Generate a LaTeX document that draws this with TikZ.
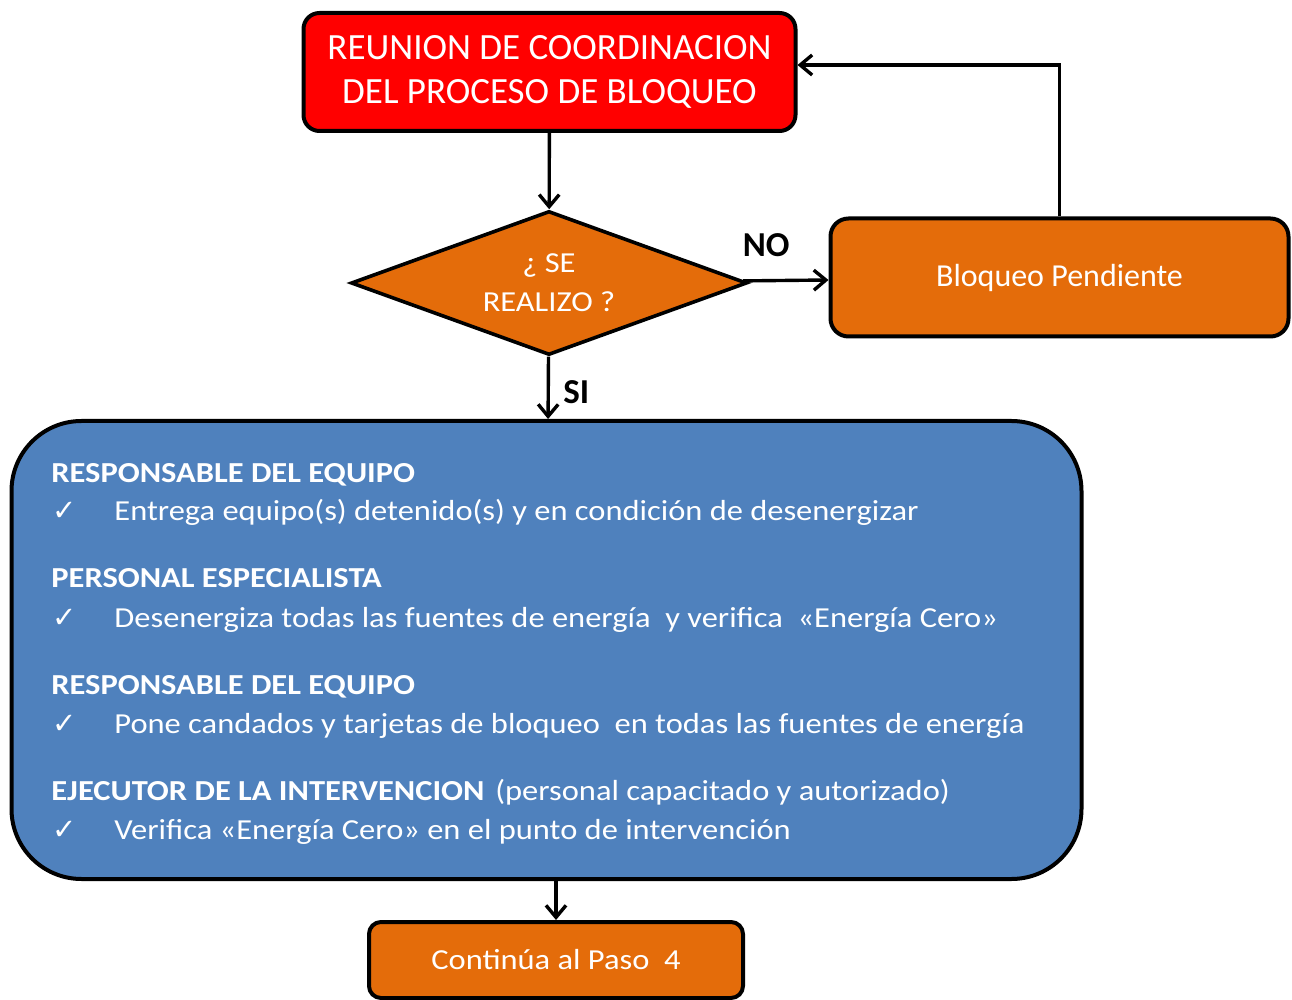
\documentclass[tikz,border=0pt]{standalone}
\usepackage{fontspec}
\setmainfont{Carlito}
\newfontfamily\ancha{Carlito}[FakeStretch=1.12]
\newfontfamily\symfont{DejaVu Sans}
\usepackage{tikz}
\usetikzlibrary{arrows.meta,positioning,shapes.geometric}
\usepackage{xcolor}
\definecolor{rojo}{HTML}{FF0000}
\definecolor{naranja}{HTML}{E46C0A}
\definecolor{azul}{HTML}{4F81BD}
\newcommand{\chk}{{\symfont\char"2713}}

\begin{document}
\begin{tikzpicture}[x=0.5pt, y=-0.5pt,
  caja/.style={draw=black, line width=2pt, rounded corners=8pt, text=white, align=center},
  flecha/.style={line width=1.7pt, -{Straight Barb[length=6pt,width=10pt]}},
  etiqueta/.style={font=\fontsize{17.5}{20}\selectfont\bfseries, inner sep=0pt},
  titulo/.style={anchor=base west, text=white, font=\ancha\fontsize{14.5}{16}\selectfont, inner sep=0pt},
  tarea/.style={anchor=base west, text=white, font=\ancha\fontsize{14.5}{16}\selectfont, inner sep=0pt}]
\useasboundingbox (0,0) rectangle (1292,1000);
% pixel grid of the original: x to the right, y downwards
\node[caja, fill=rojo, minimum width=246pt, minimum height=59pt, font=\fontsize{18.5}{22}\selectfont] (reunion) at (549.5,72) {REUNION DE COORDINACION\\DEL PROCESO DE BLOQUEO};
\node[diamond, draw=black, fill=naranja, line width=1.8pt, aspect=2.75, inner sep=0pt, minimum width=198pt, minimum height=72pt, text=white, align=center, font=\ancha\fontsize{14.5}{19.5}\selectfont] (decision) at (549,283) {¿ SE\\REALIZO ?};
\node[caja, fill=naranja, rounded corners=9pt, minimum width=229pt, minimum height=59pt, font=\fontsize{16}{18}\selectfont] (bloqueo) at (1059.5,277.5) {Bloqueo Pendiente};
\node[caja, fill=azul, rounded corners=35pt, minimum width=535pt, minimum height=229pt] (tareas) at (546.5,650) {};
\node[caja, fill=naranja, rounded corners=6pt, minimum width=187pt, minimum height=38pt, font=\ancha\fontsize{14.5}{16}\selectfont] (paso) at (556,960) {Continúa al Paso~~4};
% who does what
\foreach \y/\quien/\accion [count=\i] in {
  482/{RESPONSABLE DEL EQUIPO}/{Entrega equipo(s) detenido(s) y en condición de desenergizar},
  588/{PERSONAL ESPECIALISTA}/{Desenergiza todas las fuentes de energía~ y verifica~ «Energía Cero»},
  694/{RESPONSABLE DEL EQUIPO}/{Pone candados y tarjetas de bloqueo~ en todas las fuentes de energía},
  800/{EJECUTOR DE LA INTERVENCION}/{Verifica «Energía Cero» en el punto de intervención}}
{
  \node[titulo] (quien\i) at (51,\y) {\textbf{\quien}};
  \node[tarea] (chk\i) at (52,\y+39) {\chk};
  \node[tarea] (accion\i) at (114,\y+39) {\accion};
}
\node[tarea] (nota) at ([xshift=5pt]quien4.base east) {(personal capacitado y autorizado)};
% connectors
\draw[flecha] (reunion) -- (decision);
\draw[flecha] (decision) -- node[etiqueta, pos=0.27, yshift=18pt] (no) {NO} (bloqueo);
\draw[flecha] (decision) -- node[etiqueta, pos=0.57, xshift=14pt] (si) {SI} (tareas);
\draw[flecha] (bloqueo.north) |- ([yshift=3.5pt]reunion.east);
\draw[flecha] (tareas.south -| paso.north) -- (paso.north);
\end{tikzpicture}
\end{document}
